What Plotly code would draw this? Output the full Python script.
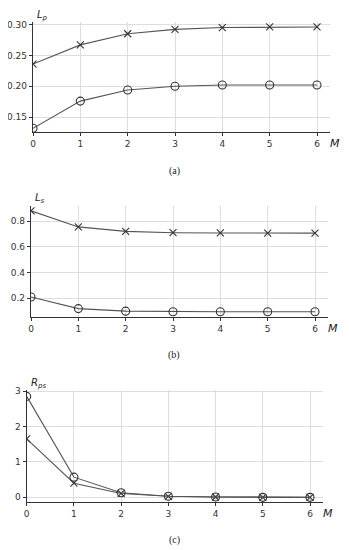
import plotly.graph_objects as go

M = [0, 1, 2, 3, 4, 5, 6]
Lp_x = [0.236, 0.267, 0.285, 0.292, 0.295, 0.296, 0.296]
Lp_o = [0.132, 0.176, 0.194, 0.200, 0.202, 0.202, 0.202]
Ls_x = [0.880, 0.755, 0.720, 0.710, 0.708, 0.707, 0.707]
Ls_o = [0.210, 0.120, 0.100, 0.096, 0.095, 0.095, 0.095]
Rps_o = [2.85, 0.57, 0.13, 0.03, 0.01, 0.0, 0.0]
Rps_x = [1.65, 0.40, 0.11, 0.03, 0.01, 0.0, 0.0]

OFF = 8  # browser default body margin
W, H = 349 - OFF, 550 - OFF
LINE = "#555555"
fig = go.Figure()

panels = [
    (Lp_x, Lp_o, (33, 330), (22, 132), (0.126, 0.304), [0.15, 0.20, 0.25, 0.30],
     ["0.15", "0.20", "0.25", "0.30"], "<i>L</i><sub><i>p</i></sub>", 171, "(a)"),
    (Ls_x, Ls_o, (31, 328), (205.7, 316.7), (0.057, 0.92), [0.2, 0.4, 0.6, 0.8],
     ["0.2", "0.4", "0.6", "0.8"], "<i>L</i><sub><i>s</i></sub>", 355, "(b)"),
    (Rps_x, Rps_o, (26.7, 323), (390, 502.3), (-0.14, 3.03), [0, 1, 2, 3],
     ["0", "1", "2", "3"], "<i>R</i><sub><i>ps</i></sub>", 540, "(c)"),
]


def px(x):
    return (x - OFF) / W


def py(y):
    return 1 - (y - OFF) / H


for i, (sx, so, xd, yd, yr, yt, ytl, ylab, capy, cap) in enumerate(panels):
    n = "" if i == 0 else str(i + 1)
    xa, ya = "x" + n, "y" + n
    for ys, sym, sz in ((sx, "x-thin-open", 7), (so, "circle-open", 8)):
        fig.add_trace(go.Scatter(
            x=M, y=ys, xaxis=xa, yaxis=ya, mode="lines+markers",
            line=dict(color=LINE, width=1.1),
            marker=dict(symbol=sym, size=sz, color="#333333", line=dict(width=1.1, color="#333333")),
            showlegend=False, cliponaxis=True))
    fig.update_layout(**{
        "xaxis" + n: dict(domain=[px(xd[0]), px(xd[1])], range=[0, 6 * (xd[1] - xd[0]) / (xd[1] - xd[0] - 13)],
                          anchor=ya, tickvals=M, ticktext=[str(m) for m in M],
                          showgrid=True, gridcolor="#dddddd", gridwidth=1,
                          showline=True, linecolor="#333333", linewidth=1.3,
                          ticks="outside", ticklen=3, tickcolor="#333333",
                          tickfont=dict(family="DejaVu Sans", size=9, color="#333333"),
                          zeroline=False, fixedrange=True, automargin=False),
        "yaxis" + n: dict(domain=[py(yd[1]), py(yd[0])], range=list(yr), anchor=xa,
                          tickvals=yt, ticktext=ytl,
                          showgrid=True, gridcolor="#dddddd", gridwidth=1,
                          showline=True, linecolor="#333333", linewidth=1.3,
                          ticks="outside", ticklen=3, tickcolor="#333333",
                          tickfont=dict(family="DejaVu Sans", size=9, color="#333333"),
                          zeroline=False, fixedrange=True, automargin=False),
    })
    fig.add_annotation(text=ylab, xref="paper", yref="paper", x=px(xd[0] + 2), y=py(yd[0] - 7),
                       xanchor="left", yanchor="middle", showarrow=False,
                       font=dict(family="DejaVu Sans", size=10, color="#222222"))
    fig.add_annotation(text="<i>M</i>", xref="paper", yref="paper", x=px(xd[1] - 2), y=py(yd[1] + 3),
                       xanchor="left", yanchor="top", showarrow=False,
                       font=dict(family="DejaVu Sans", size=11, color="#222222"))
    fig.add_annotation(text=cap, xref="paper", yref="paper", x=px(174), y=py(capy),
                       xanchor="center", yanchor="middle", showarrow=False,
                       font=dict(family="Liberation Serif", size=10, color="#222222"))

fig.update_layout(width=W, height=H, margin=dict(l=0, r=0, t=0, b=0),
                  paper_bgcolor="white", plot_bgcolor="white")
fig.write_html("out.html", config={"displayModeBar": False})
